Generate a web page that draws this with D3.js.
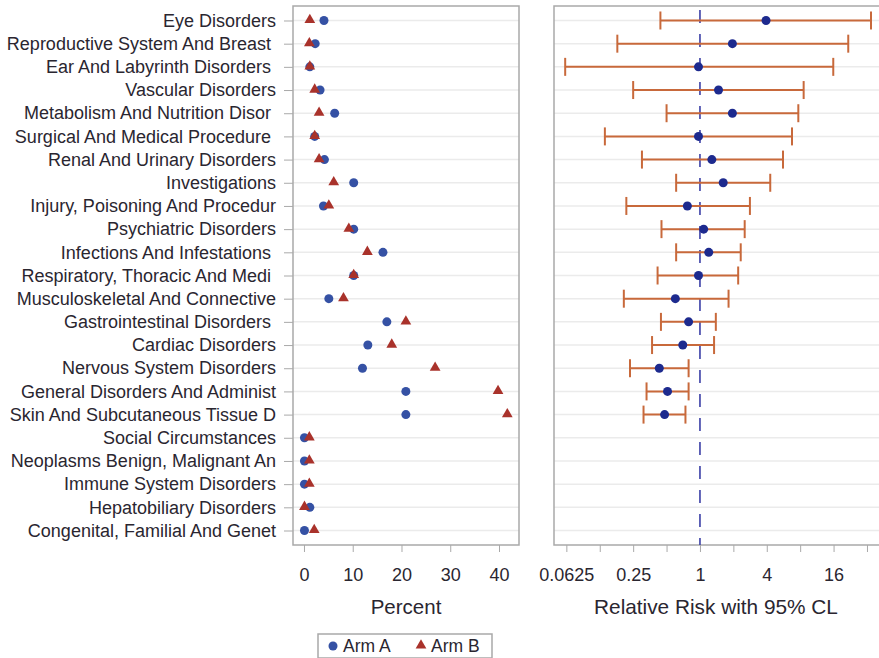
<!DOCTYPE html>
<html>
<head>
<meta charset="utf-8">
<script src="https://cdn.jsdelivr.net/npm/d3@7"></script>
<style>
  body { margin: 0; background: #fff; }
  text { font-family: "Liberation Sans", Arial, sans-serif; fill: #2a2630; white-space: pre; }
</style>
</head>
<body>
<script>
// adverse event categories, top to bottom
const categories = [
  "Eye Disorders", "Reproductive System And Breast ", "Ear And Labyrinth Disorders ",
  "Vascular Disorders", "Metabolism And Nutrition Disor ", "Surgical And Medical Procedure ",
  "Renal And Urinary Disorders", "Investigations", "Injury, Poisoning And Procedur",
  "Psychiatric Disorders", "Infections And Infestations ", "Respiratory, Thoracic And Medi ",
  "Musculoskeletal And Connective", "Gastrointestinal Disorders ", "Cardiac Disorders",
  "Nervous System Disorders", "General Disorders And Administ", "Skin And Subcutaneous Tissue D",
  "Social Circumstances", "Neoplasms Benign, Malignant An", "Immune System Disorders",
  "Hepatobiliary Disorders", "Congenital, Familial And Genet"
]
// percent of patients
const armA = [4.1, 2.3, 1.2, 3.3, 6.3, 2.2, 4.2, 10.2, 4.0, 10.2, 16.2, 10.2, 5.1, 17.0, 13.1, 12.0, 20.9, 20.9, 0.1, 0.1, 0.1, 1.2, 0.1]
const armB = [1.2, 1.1, 1.2, 2.2, 3.1, 2.2, 3.1, 6.1, 5.1, 9.2, 13.0, 10.2, 8.1, 20.9, 18.0, 26.9, 39.8, 41.7, 1.1, 1.1, 1.1, 0.1, 2.1]
// relative risk with 95% CL (null where not estimable)
const rr    = [3.94, 1.96, 0.97, 1.47, 1.96, 0.97, 1.28, 1.62, 0.77, 1.08, 1.20, 0.97, 0.60, 0.79, 0.70, 0.43, 0.51, 0.48, null, null, null, null, null]
const lower = [0.44, 0.18, 0.061, 0.25, 0.50, 0.139, 0.30, 0.61, 0.217, 0.45, 0.61, 0.415, 0.206, 0.445, 0.37, 0.234, 0.33, 0.31, null, null, null, null, null]
const upper = [34.8, 21.7, 15.9, 8.6, 7.7, 6.75, 5.6, 4.3, 2.82, 2.53, 2.33, 2.21, 1.81, 1.39, 1.34, 0.79, 0.79, 0.74, null, null, null, null, null]
const pctTicks = [0, 10, 20, 30, 40]
const rrTicks = [0.0625, 0.125, 0.25, 0.5, 1, 2, 4, 8, 16, 32]
const rrLabels = [0.0625, 0.25, 1, 4, 16]

const W = 879, H = 658
const plotTop = 6, plotBottom = 545
const frameCol = "#a9a9a9", gridCol = "#ebebeb"
const blue = "#3551a4", red = "#a9322b", navy = "#1d2a8e", orange = "#c8693b"
const font = "Liberation Sans, Arial, sans-serif"

const svg = d3.select("body").append("svg")
    .attr("width", W)
    .attr("height", H)

const y = d3.scalePoint()
    .domain(categories)
    .range([plotTop, plotBottom])
    .padding(0.625)

const xL = d3.scaleLinear().domain([-2.25, 44.1]).range([293, 519])
const xR = d3.scaleLog().base(2).domain([Math.pow(2, -4.37), Math.pow(2, 5.45)]).range([554, 882])

const rows = categories.map((c, i) => ({c, a: armA[i], b: armB[i], rr: rr[i], lo: lower[i], hi: upper[i]}))

// grid lines in both panels
for (const sc of [xL, xR]) {
  svg.append("g").selectAll("line")
      .data(categories)
    .enter().append("line")
      .attr("x1", sc.range()[0]).attr("x2", sc.range()[1])
      .attr("y1", d => y(d)).attr("y2", d => y(d))
      .attr("stroke", gridCol)
      .attr("stroke-width", 1.5)
}

// category axis
const yAxis = svg.append("g")
    .attr("transform", `translate(${xL.range()[0]},0)`)
    .call(d3.axisLeft(y).tickSize(9).tickPadding(8))
yAxis.select(".domain").remove()
yAxis.selectAll(".tick line").attr("stroke", frameCol)
yAxis.selectAll(".tick text")
    .attr("fill", "#2a2630")
    .style("font-size", "18px")
    .style("font-family", font)

// bottom axes
const axL = svg.append("g")
    .attr("transform", `translate(0,${plotBottom})`)
    .call(d3.axisBottom(xL).tickValues(pctTicks).tickSize(7).tickPadding(16))
const axR = svg.append("g")
    .attr("transform", `translate(0,${plotBottom})`)
    .call(d3.axisBottom(xR).tickValues(rrTicks).tickSize(7).tickPadding(16)
      .tickFormat(d => rrLabels.includes(d) ? String(d) : ""))
for (const ax of [axL, axR]) {
  ax.select(".domain").remove()
  ax.selectAll(".tick line").attr("stroke", frameCol)
  ax.selectAll(".tick text")
      .attr("fill", "#2a2630")
      .style("font-size", "18px")
      .style("font-family", font)
}

// frames
svg.append("rect")
    .attr("x", xL.range()[0]).attr("y", plotTop)
    .attr("width", xL.range()[1] - xL.range()[0]).attr("height", plotBottom - plotTop)
    .attr("fill", "none").attr("stroke", frameCol).attr("stroke-width", 1.5)
svg.append("rect")
    .attr("x", xR.range()[0]).attr("y", plotTop)
    .attr("width", xR.range()[1] - xR.range()[0]).attr("height", plotBottom - plotTop)
    .attr("fill", "none").attr("stroke", frameCol).attr("stroke-width", 1.5)

// reference line at RR = 1
svg.append("line")
    .attr("x1", xR(1)).attr("x2", xR(1))
    .attr("y1", plotTop + 4).attr("y2", plotBottom)
    .attr("stroke", "#3b3fa6")
    .attr("stroke-width", 1.6)
    .attr("stroke-dasharray", "13,11")

// percent markers
svg.append("g").selectAll("circle")
    .data(rows)
  .enter().append("circle")
    .attr("cx", d => xL(d.a))
    .attr("cy", d => y(d.c))
    .attr("r", 4.5)
    .attr("fill", blue)

const tri = d3.symbol().type(d3.symbolTriangle).size(50)
svg.append("g").selectAll("path")
    .data(rows)
  .enter().append("path")
    .attr("d", tri)
    .attr("transform", d => `translate(${xL(d.b)},${y(d.c) - 0.5})`)
    .attr("fill", red)

// relative risk error bars
const est = rows.filter(d => d.rr != null)
const eb = svg.append("g").attr("stroke", orange).attr("stroke-width", 2)
eb.selectAll(".bar")
    .data(est)
  .enter().append("line")
    .attr("x1", d => xR(d.lo)).attr("x2", d => xR(d.hi))
    .attr("y1", d => y(d.c)).attr("y2", d => y(d.c))
eb.selectAll(".capL")
    .data(est)
  .enter().append("line")
    .attr("x1", d => xR(d.lo)).attr("x2", d => xR(d.lo))
    .attr("y1", d => y(d.c) - 9).attr("y2", d => y(d.c) + 9)
eb.selectAll(".capH")
    .data(est)
  .enter().append("line")
    .attr("x1", d => xR(d.hi)).attr("x2", d => xR(d.hi))
    .attr("y1", d => y(d.c) - 9).attr("y2", d => y(d.c) + 9)

svg.append("g").selectAll("circle")
    .data(est)
  .enter().append("circle")
    .attr("cx", d => xR(d.rr))
    .attr("cy", d => y(d.c))
    .attr("r", 4.5)
    .attr("fill", navy)

// axis titles
svg.append("text")
    .attr("x", (xL.range()[0] + xL.range()[1]) / 2)
    .attr("y", 614)
    .attr("text-anchor", "middle")
    .style("font-size", "20.5px")
    .text("Percent")
svg.append("text")
    .attr("x", 716)
    .attr("y", 614)
    .attr("text-anchor", "middle")
    .style("font-size", "20.8px")
    .text("Relative Risk with 95% CL")

// legend
const lg = svg.append("g").attr("transform", "translate(318,634)")
lg.append("rect")
    .attr("width", 174).attr("height", 24)
    .attr("fill", "none").attr("stroke", frameCol).attr("stroke-width", 1.5)
lg.append("circle").attr("cx", 15).attr("cy", 12).attr("r", 4.5).attr("fill", blue)
lg.append("text").attr("x", 25).attr("y", 18).style("font-size", "17.5px").text("Arm A")
lg.append("path").attr("d", tri).attr("transform", "translate(103,11.5)").attr("fill", red)
lg.append("text").attr("x", 113).attr("y", 18).style("font-size", "17.5px").text("Arm B")
</script>
</body>
</html>
